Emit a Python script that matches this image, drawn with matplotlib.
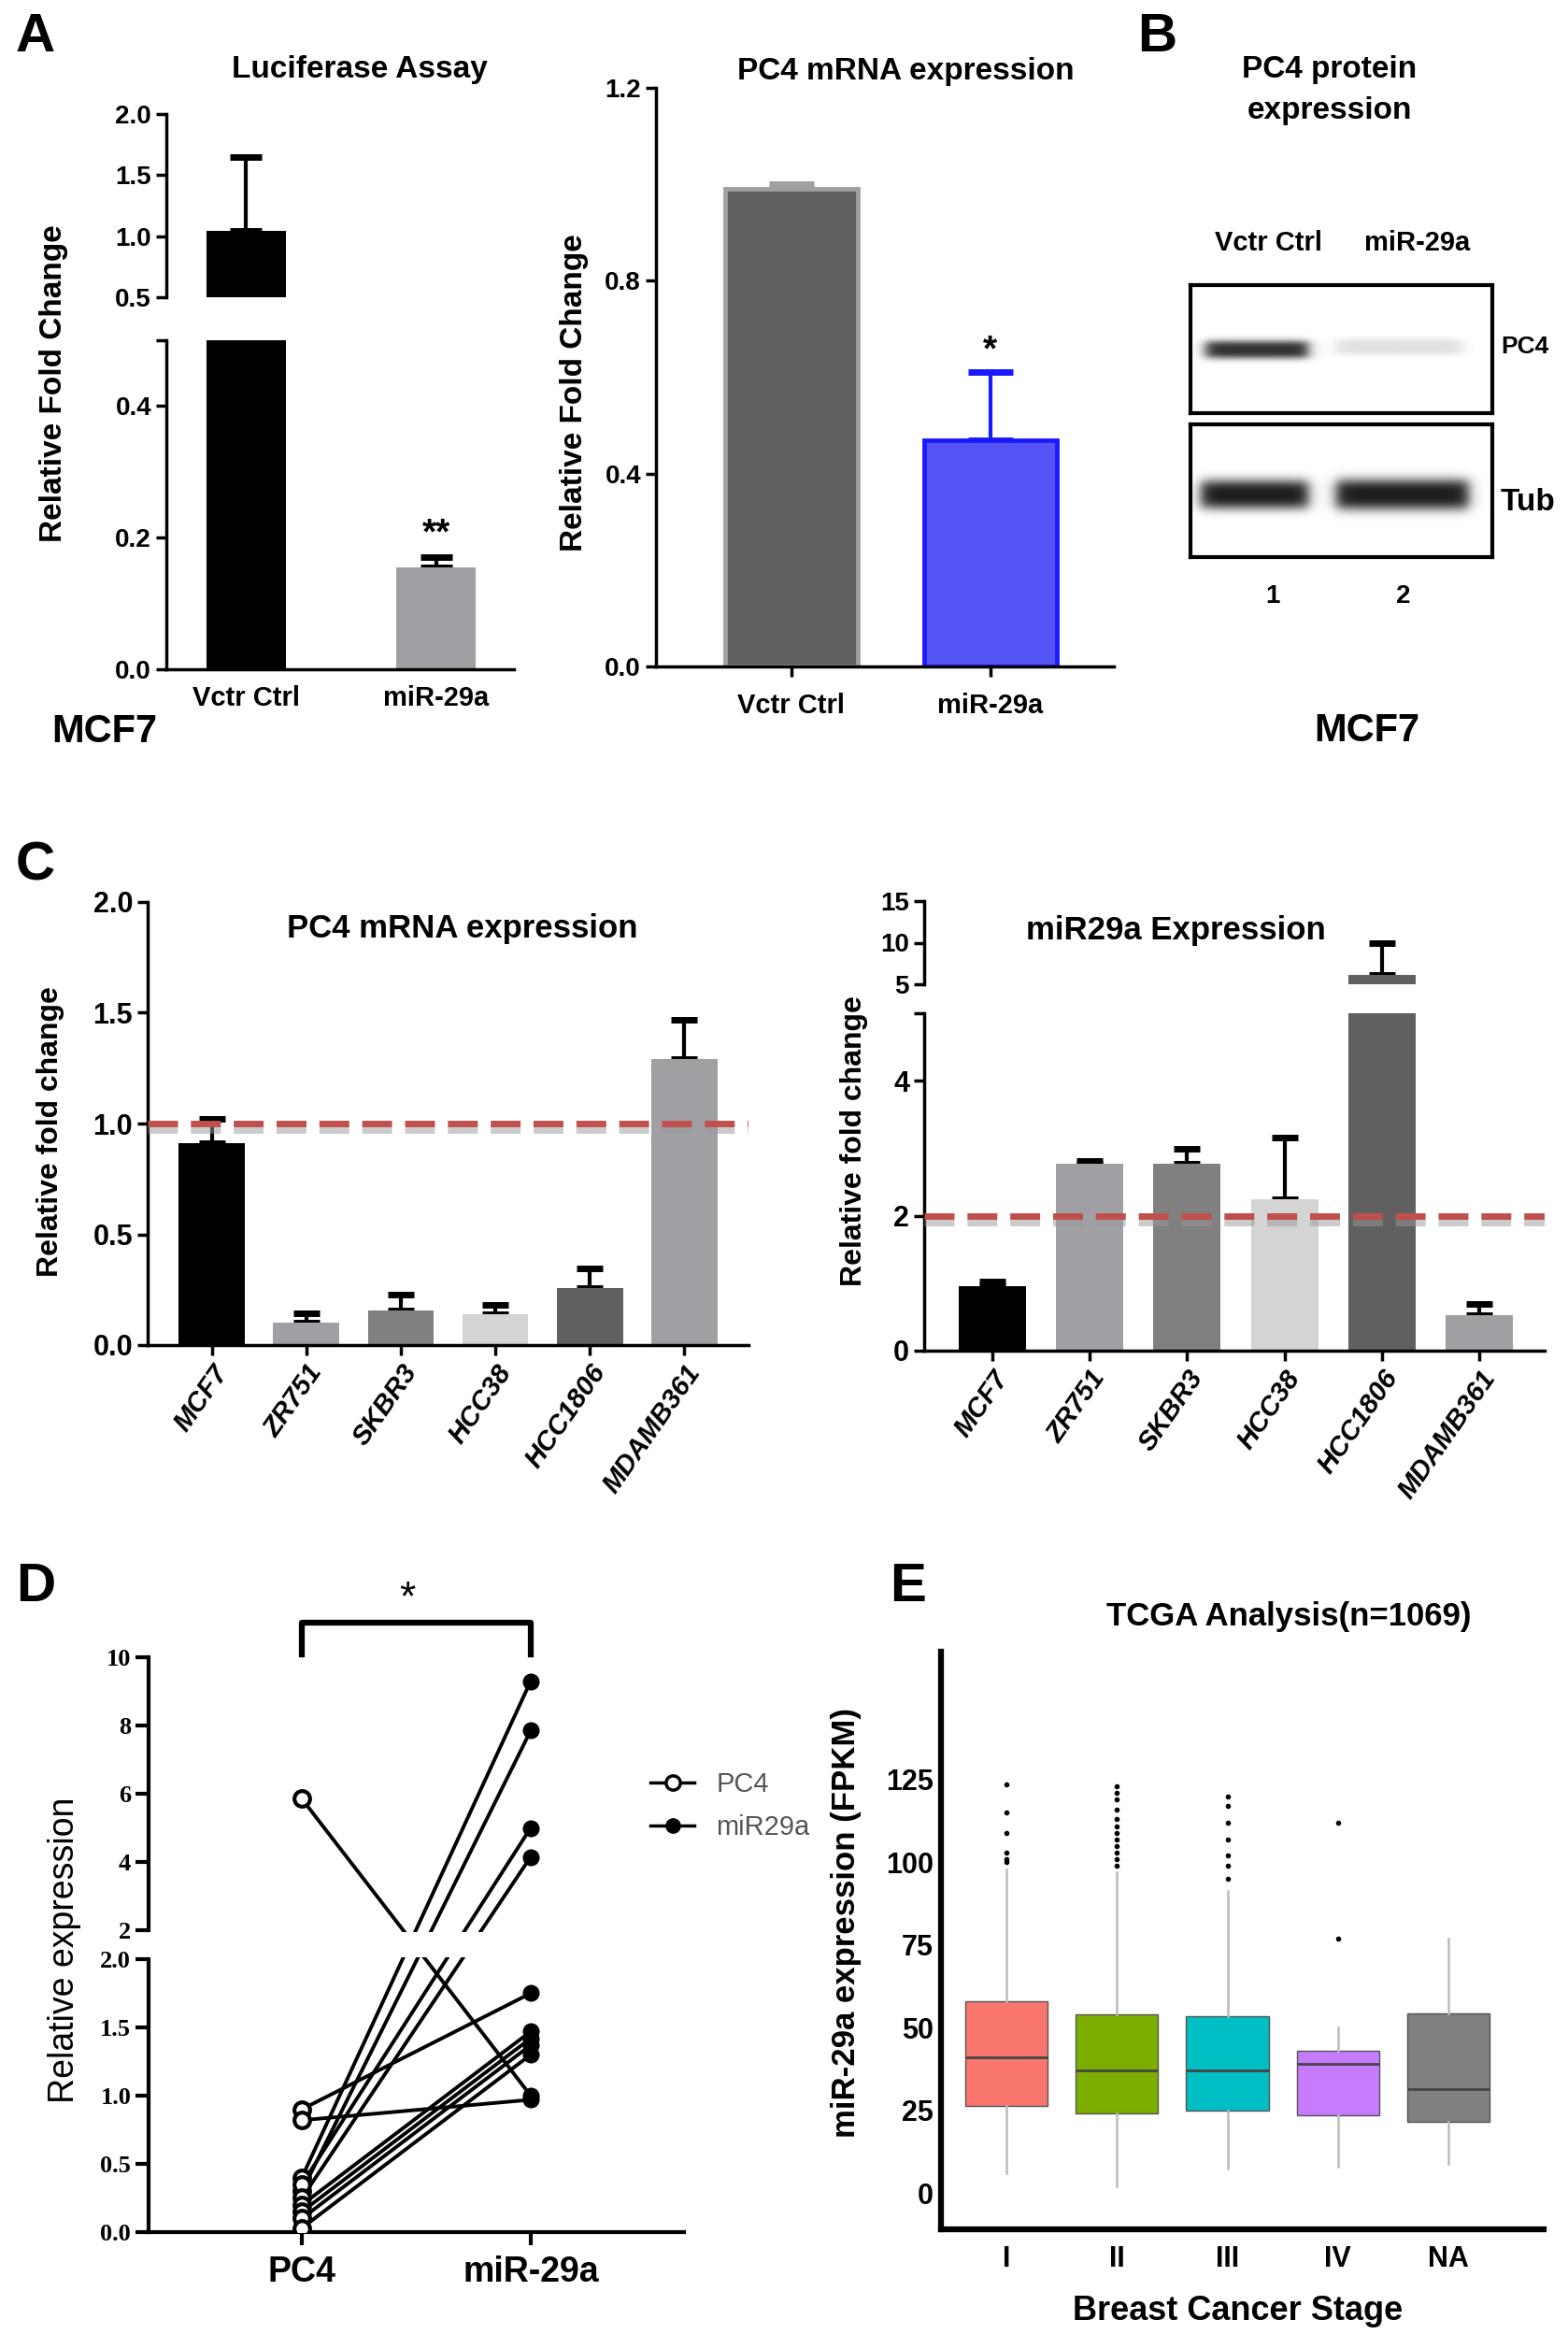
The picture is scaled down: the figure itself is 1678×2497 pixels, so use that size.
import numpy as np
import matplotlib
matplotlib.use("Agg")
import matplotlib.pyplot as plt
from matplotlib.lines import Line2D
import matplotlib.patheffects as pe

plt.rcParams['font.family'] = ['Liberation Sans', 'DejaVu Sans']
NARROW = ['Liberation Sans', 'DejaVu Sans']
SERIF = ['Liberation Serif', 'DejaVu Serif']

# ---------------- data ----------------
luc_groups = ['Vctr Ctrl', 'miR-29a']
luc_mean = [1.04, 0.155]
luc_err = [0.61, 0.015]
luc_colors = ['#000000', '#a0a0a4']

pc4a_groups = ['Vctr Ctrl', 'miR-29a']
pc4a_mean = [0.99, 0.47]
pc4a_err = [0.01, 0.14]

cell_lines = ['MCF7', 'ZR751', 'SKBR3', 'HCC38', 'HCC1806', 'MDAMB361']
c_colors = ['#000000', '#a0a0a4', '#808080', '#d4d4d4', '#606060', '#a0a0a4']
pc4c_mean = [0.913, 0.103, 0.157, 0.138, 0.256, 1.29]
pc4c_err = [0.107, 0.042, 0.07, 0.042, 0.089, 0.18]
mir_mean = [0.95, 2.77, 2.77, 2.25, 6.1, 0.52]
mir_err = [0.07, 0.04, 0.22, 0.91, 3.9, 0.17]

d_pc4 = [5.85, 0.9, 0.82, 0.4, 0.3, 0.35, 0.25, 0.2, 0.15, 0.1, 0.03]
d_mir = [1.0, 1.75, 0.97, 9.3, 7.85, 5.0, 4.15, 1.47, 1.42, 1.37, 1.3]

stages = ['I', 'II', 'III', 'IV', 'NA']
e_colors = ['#F8766D', '#7CAE00', '#00BFC4', '#C77CFF', '#808080']
e_q1 = [26.5, 24, 25, 23.5, 21.5]
e_med = [41, 37, 37, 39, 31.5]
e_q3 = [58, 54, 53.5, 43, 54.5]
e_lo = [6, 2, 7.5, 8, 9]
e_hi = [98, 97, 91.5, 50, 77]
e_fliers = [[100, 101, 103, 109, 115, 123.5],
            [99, 101, 103, 105, 107, 109, 111, 113, 116, 119, 121, 123],
            [95, 99, 102, 107, 112, 117, 120],
            [77, 112],
            []]

# ---------------- figure ----------------
W, H = 1678, 2497
fig = plt.figure(figsize=(W / 100, H / 100), dpi=100)


def axp(x0, y0, x1, y1):
    return fig.add_axes([x0 / W, 1 - y1 / H, (x1 - x0) / W, (y1 - y0) / H])


def ftext(x, y, s, **kw):
    fig.text(x / W, 1 - y / H, s, **kw)


def style(ax, lw=2.5):
    for s in ['top', 'right']:
        ax.spines[s].set_visible(False)
    for s in ['left', 'bottom']:
        ax.spines[s].set_linewidth(lw)
    ax.tick_params(width=2.5, length=8)


def bars(ax, x, mean, err, colors, width, capsize=10):
    ax.bar(x, mean, width=width, color=colors, zorder=2)
    for i in range(len(x)):
        ax.errorbar(x[i], mean[i], yerr=[[0], [err[i]]], fmt='none', ecolor='black',
                    elinewidth=3, capsize=capsize, capthick=5, zorder=1)


# ---- letters ----
for (x, y, s) in [(38, 40, 'A'), (1238, 40, 'B'), (38, 926, 'C'), (38, 1698, 'D'), (972, 1698, 'E')]:
    ftext(x, y, s, fontsize=42, fontweight='bold', ha='center', va='center')

# ---- A: Luciferase (broken) ----
xl = np.arange(2)
axu = axp(178, 122, 550, 318)
axl = axp(178, 364, 550, 716)
for ax in (axu, axl):
    style(ax)
    bars(ax, xl, luc_mean, luc_err, luc_colors, 0.42, capsize=12)
    ax.set_xlim(-0.42, 1.41)
axu.set_ylim(0.5, 2.0)
axu.set_yticks([0.5, 1.0, 1.5, 2.0])
axu.set_yticklabels(['0.5', '1.0', '1.5', '2.0'], fontsize=20, fontweight='bold')
axu.spines['bottom'].set_visible(False)
axu.set_xticks([])
axl.set_ylim(0, 0.5)
axl.set_yticks([0, 0.2, 0.4, 0.5])
axl.set_yticklabels(['0.0', '0.2', '0.4', ''], fontsize=20, fontweight='bold')
axl.set_xticks(xl)
axl.set_xticklabels(luc_groups, fontsize=21, fontweight='bold')
axl.tick_params(axis='x', length=0, pad=12)
axl.text(1, 0.18, '**', ha='center', va='bottom', fontsize=28, fontweight='bold')
ftext(385, 74, 'Luciferase Assay', fontsize=24, fontweight='bold', ha='center', va='center')
ftext(58, 410, 'Relative Fold Change', fontsize=24, fontweight='bold', rotation=90, ha='center', va='center')
ftext(112, 783, 'MCF7', fontsize=30, fontweight='bold', ha='center', va='center')

# ---- A: PC4 mRNA ----
ax = axp(702, 94, 1192, 713)
style(ax)
ax.bar(xl, pc4a_mean, width=0.67, color=['#606060', '#5555f5'], edgecolor=['#a0a0a0', '#1a1aff'], linewidth=3.5, zorder=2)
for i, ec in enumerate(['#a0a0a0', '#1a1aff']):
    ax.errorbar(xl[i], pc4a_mean[i], yerr=[[0], [pc4a_err[i]]], fmt='none', ecolor=ec,
                elinewidth=3, capsize=17, capthick=5, zorder=1)
ax.set_xlim(-0.68, 1.62)
ax.set_ylim(0, 1.2)
ax.set_yticks([0, 0.4, 0.8, 1.2])
ax.set_yticklabels(['0.0', '0.4', '0.8', '1.2'], fontsize=20, fontweight='bold')
ax.set_xticks(xl)
ax.set_xticklabels(pc4a_groups, fontsize=21, fontweight='bold')
ax.tick_params(axis='x', pad=12)
ax.text(1, 0.62, '*', ha='center', va='bottom', fontsize=28, fontweight='bold')
ftext(969, 76, 'PC4 mRNA expression', fontsize=24, fontweight='bold', ha='center', va='center')
ftext(615, 420, 'Relative Fold Change', fontsize=24, fontweight='bold', rotation=90, ha='center', va='center')

# ---- B: western blot ----
ftext(1423, 74, 'PC4 protein', fontsize=24, fontweight='bold', ha='center', va='center')
ftext(1423, 118, 'expression', fontsize=24, fontweight='bold', ha='center', va='center')
ftext(1357, 260, 'Vctr Ctrl', fontsize=21, fontweight='bold', ha='center', va='center')
ftext(1517, 260, 'miR-29a', fontsize=21, fontweight='bold', ha='center', va='center')
ftext(1606, 371, 'PC4', fontsize=19, fontweight='bold', ha='left', va='center')
ftext(1606, 537, 'Tub', fontsize=24, fontweight='bold', ha='left', va='center')
ftext(1362, 638, '1', fontsize=20, fontweight='bold', ha='center', va='center')
ftext(1502, 638, '2', fontsize=20, fontweight='bold', ha='center', va='center')
ftext(1463, 782, 'MCF7', fontsize=30, fontweight='bold', ha='center', va='center')


def blot(box, bandlist):
    x0, y0, x1, y1 = box
    axb = axp(x0, y0, x1, y1)
    xs = np.linspace(x0, x1, 400)
    ys = np.linspace(y0, y1, 200)
    X, Y = np.meshgrid(xs, ys)
    img = np.zeros_like(X)
    for (bx0, bx1, by, th, inten) in bandlist:
        fx = 1 / (1 + np.exp(-(X - bx0) / 4)) * 1 / (1 + np.exp((X - bx1) / 4))
        fy = np.exp(-np.abs((Y - by) / th) ** 3)
        img += inten * fx * fy
    img = np.clip(img, 0, 1)
    axb.imshow(1 - img, cmap='gray', vmin=0, vmax=1, aspect='auto', extent=(x0, x1, y1, y0))
    axb.set_xticks([]); axb.set_yticks([])
    for s in axb.spines.values():
        s.set_linewidth(3)


blot((1274, 305, 1597, 442), [(1290, 1400, 374, 10, 0.8), (1430, 1565, 371, 9, 0.12)])
blot((1274, 454, 1597, 596), [(1285, 1400, 529, 16, 0.88), (1430, 1572, 529, 17, 0.88)])

# ---- C: PC4 mRNA expression ----
xc = np.arange(len(cell_lines))
shadow = [pe.SimpleLineShadow(offset=(0, -5), shadow_color='#999999', alpha=0.5), pe.Normal()]
ax = axp(158, 965, 801, 1439)
style(ax)
bars(ax, xc, pc4c_mean, pc4c_err, c_colors, 0.7)
ax.axhline(1.0, color='#c0504d', lw=5, dashes=(4.6, 2.0), zorder=3, path_effects=shadow)
ax.set_xlim(-0.68, 5.68)
ax.set_ylim(0, 2.0)
ax.set_yticks([0, 0.5, 1.0, 1.5, 2.0])
ax.set_yticklabels(['0.0', '0.5', '1.0', '1.5', '2.0'], fontsize=22, fontweight='bold')
ax.set_xticks(xc)
ax.set_xticklabels(cell_lines, fontsize=21, fontweight='bold', fontstyle='italic',
                   rotation=55, ha='right', rotation_mode='anchor')
ftext(495, 994, 'PC4 mRNA expression', fontsize=25, fontweight='bold', ha='center', va='center')
ftext(54, 1211, 'Relative fold change', fontsize=23, fontweight='bold', rotation=90, ha='center', va='center')

# ---- C: miR29a (broken) ----
axu = axp(989, 964, 1653, 1053)
axl = axp(989, 1084, 1653, 1445)
for a in (axu, axl):
    style(a)
    bars(a, xc, mir_mean, mir_err, c_colors, 0.69)
    a.set_xlim(-0.70, 5.67)
axu.set_ylim(5, 15)
axu.set_yticks([5, 10, 15])
axu.set_yticklabels(['5', '10', '15'], fontsize=20, fontweight='bold')
axu.spines['bottom'].set_visible(False)
axu.set_xticks([])
axl.set_ylim(0, 5)
axl.set_yticks([0, 2, 4, 5])
axl.set_yticklabels(['0', '2', '4', ''], fontsize=22, fontweight='bold')
axl.axhline(2.0, color='#c0504d', lw=5, dashes=(4.6, 2.0), zorder=3, path_effects=shadow)
axl.set_xticks(xc)
axl.set_xticklabels(cell_lines, fontsize=21, fontweight='bold', fontstyle='italic',
                    rotation=55, ha='right', rotation_mode='anchor')
ftext(1258, 995, 'miR29a Expression', fontsize=25, fontweight='bold', ha='center', va='center')
ftext(914, 1221, 'Relative fold change', fontsize=23, fontweight='bold', rotation=90, ha='center', va='center')

# ---- D: paired plot with broken axis ----
GAP = 0.212


def fwd(y):
    y = np.asarray(y, dtype=float)
    return np.where(y <= 2, y, 2 + GAP + (y - 2) / 4)


def inv(m):
    m = np.asarray(m, dtype=float)
    return np.where(m <= 2 + GAP / 2, m, 2 + (m - 2 - GAP) * 4)


ax = axp(159, 1773, 732, 2388)
ax.set_yscale('function', functions=(fwd, inv))
for i in range(len(d_pc4)):
    ax.plot([0, 1], [d_pc4[i], d_mir[i]], color='black', lw=2.8, zorder=2)
ax.plot(np.zeros(len(d_pc4)), d_pc4, 'o', ms=12, mfc='white', mec='black', mew=3, zorder=3)
ax.plot(np.ones(len(d_mir)), d_mir, 'o', ms=12, mfc='black', mec='black', zorder=3)
ax.set_xlim(-0.67, 1.67)
ax.set_ylim(0, 10)
lo_frac = 2.0 / (4 + GAP)
hi_frac = (2 + GAP) / (4 + GAP)
ax.add_patch(plt.Rectangle((0, lo_frac + 0.004), 1, hi_frac - lo_frac - 0.008, transform=ax.transAxes,
                           facecolor='white', edgecolor='none', zorder=4))
for s in ['top', 'right', 'left']:
    ax.spines[s].set_visible(False)
ax.spines['bottom'].set_linewidth(3)
ax.plot([0, 0], [0, lo_frac], transform=ax.transAxes, color='black', lw=3, clip_on=False)
ax.plot([0, 0], [hi_frac, 1], transform=ax.transAxes, color='black', lw=3, clip_on=False)
yt = [0, 0.5, 1.0, 1.5, 2.0, 2 + 1e-9, 4, 6, 8, 10]
ax.set_yticks(yt)
ax.set_yticklabels(['0.0', '0.5', '1.0', '1.5', '2.0', '2', '4', '6', '8', '10'],
                   family=SERIF, fontsize=19, fontweight='bold')
ax.yaxis.set_minor_locator(matplotlib.ticker.NullLocator())
ax.tick_params(width=3, length=10)
ax.set_xticks([0, 1])
ax.set_xticklabels(['PC4', 'miR-29a'], fontsize=27, fontweight='bold')
ax.tick_params(axis='x', pad=8)
# significance bracket
ax.plot([0, 0, 1, 1], [1.005, 1.06, 1.06, 1.005], transform=ax.get_xaxis_transform(),
        color='black', lw=4.5, clip_on=False)
ftext(436, 1711, '*', fontsize=32, ha='center', va='center')
ftext(69, 2086, 'Relative expression', fontsize=27, rotation=90, ha='center', va='center')
handles = [Line2D([], [], color='black', lw=2.5, marker='o', ms=11, mfc='white', mew=2.5),
           Line2D([], [], color='black', lw=2.5, marker='o', ms=11, mfc='black')]
leg = fig.legend(handles, ['PC4', 'miR29a'], loc='center left', bbox_to_anchor=(670 / W, 1 - 1932 / H),
                 frameon=False, fontsize=21, handlelength=1.6, labelspacing=0.6)
for t in leg.get_texts():
    t.set_color('#555555')

# ---- E: boxplot ----
ax = axp(1007, 1767, 1652, 2385)
stats = []
for i in range(len(stages)):
    stats.append(dict(med=e_med[i], q1=e_q1[i], q3=e_q3[i], whislo=e_lo[i], whishi=e_hi[i],
                      fliers=e_fliers[i], label=stages[i]))
bp = ax.bxp(stats, positions=np.arange(len(stages)), widths=0.745, patch_artist=True,
            showcaps=False,
            whiskerprops=dict(color='#bbbbbb', lw=1.8),
            medianprops=dict(color='#444444', lw=2),
            flierprops=dict(marker='o', ms=3, mfc='black', mec='black'))
for patch, c in zip(bp['boxes'], e_colors):
    patch.set_facecolor(c)
    patch.set_edgecolor('#555555')
    patch.set_linewidth(1)
ax.set_xlim(-0.59, 4.86)
ax.set_ylim(-10.9, 163.7)
ax.set_yticks([0, 25, 50, 75, 100, 125])
ax.set_yticklabels(['0', '25', '50', '75', '100', '125'], fontsize=22, fontweight='bold')
ax.tick_params(axis='y', length=0, pad=6)
ax.tick_params(axis='x', length=0, pad=12)
ax.set_xticklabels(stages, fontsize=22, fontweight='bold')
for s in ['top', 'right']:
    ax.spines[s].set_visible(False)
ax.spines['left'].set_linewidth(4.5)
ax.spines['bottom'].set_linewidth(4.5)
ftext(1379, 1730, 'TCGA Analysis(n=1069)', fontsize=25, fontweight='bold', ha='center', va='center')
ftext(906, 2057, 'miR-29a expression (FPKM)', fontsize=25, fontweight='bold', rotation=90, ha='center', va='center')
ftext(1325, 2473, 'Breast Cancer Stage', fontsize=26, fontweight='bold', ha='center', va='center')

fig.savefig('out.png', dpi=100)
